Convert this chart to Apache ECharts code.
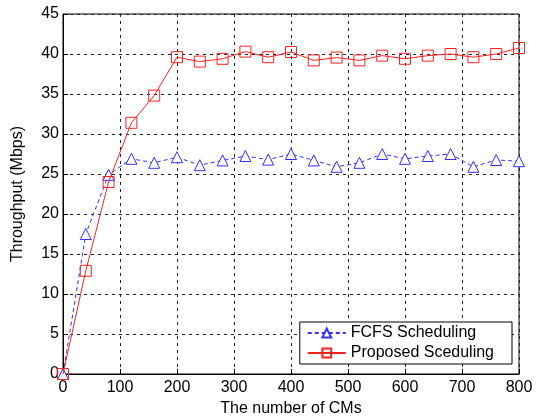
<!DOCTYPE html>
<html><head><meta charset="utf-8">
<script src="https://cdn.jsdelivr.net/npm/echarts@6/dist/echarts.min.js"></script>
<style>html,body{margin:0;padding:0;background:#fff}#c{width:542px;height:418px}</style>
</head><body><div id="c"></div>
<script>
const xValues = [0,40,80,120,160,200,240,280,320,360,400,440,480,520,560,600,640,680,720,760,800];
const fcfs = [0,17.5,24.9,26.9,26.4,27.1,26.1,26.7,27.25,26.8,27.5,26.7,25.9,26.4,27.5,26.9,27.25,27.5,25.9,26.75,26.6];
const proposed = [0,12.9,24.0,31.4,34.8,39.6,39.05,39.4,40.3,39.6,40.25,39.2,39.55,39.2,39.8,39.4,39.8,40.0,39.6,40.0,40.75];
const seriesNames = ['FCFS Scheduling','Proposed Sceduling'];
const xTitle = 'The number of CMs';
const yTitle = 'Throughput (Mbps)';

const font = 'Liberation Sans, Arial, sans-serif';
const chart = echarts.init(document.getElementById('c'));
chart.setOption({
  animation:false,
  backgroundColor:'#fff',
  grid:{left:63,right:23,top:14,bottom:44,show:true,borderColor:'#000',borderWidth:1,
        containLabel:false, outerBoundsMode:'none'},
  legend:{
    right:30, bottom:54, orient:'vertical', itemGap:4, align:'left',
    backgroundColor:'#fff', borderColor:'#000', borderWidth:1,
    padding:[3,18,3,7], itemWidth:38, itemHeight:11,
    textStyle:{fontFamily:font,fontSize:16,color:'#000',lineHeight:16},
    data:seriesNames
  },
  xAxis:{
    type:'value', min:0, max:800, interval:100,
    name:xTitle, nameLocation:'middle', nameGap:27,
    nameTextStyle:{fontFamily:font,fontSize:16,color:'#000'},
    axisLine:{lineStyle:{color:'#000'}},
    axisTick:{inside:true,length:5,lineStyle:{color:'#000'}},
    axisLabel:{fontFamily:font,fontSize:16,color:'#000',margin:6},
    splitLine:{show:true,lineStyle:{color:'#222',type:[3,4],width:1}}
  },
  yAxis:{
    type:'value', min:0, max:45, interval:5,
    name:yTitle, nameLocation:'middle', nameGap:37,
    nameTextStyle:{fontFamily:font,fontSize:16,color:'#000'},
    axisLine:{show:true,lineStyle:{color:'#000'}},
    axisTick:{show:true,inside:true,length:5,lineStyle:{color:'#000'}},
    axisLabel:{fontFamily:font,fontSize:16,color:'#000',margin:4},
    splitLine:{show:true,lineStyle:{color:'#222',type:[3,4],width:1}}
  },
  series:[
    {name:seriesNames[0], type:'line', data:xValues.map((x,i)=>[x,fcfs[i]]),
     symbol:'triangle', symbolSize:11, showAllSymbol:true,
     itemStyle:{color:'#fff',borderColor:'#3030ff',borderWidth:1},
     lineStyle:{color:'#3030ff',width:1,type:[4,3]}, z:3},
    {name:seriesNames[1], type:'line', data:xValues.map((x,i)=>[x,proposed[i]]),
     symbol:'rect', symbolSize:11, showAllSymbol:true,
     itemStyle:{color:'rgba(255,255,255,0)',borderColor:'#ff2020',borderWidth:1},
     lineStyle:{color:'#ff2020',width:1}, z:4}
  ]
});
</script></body></html>
